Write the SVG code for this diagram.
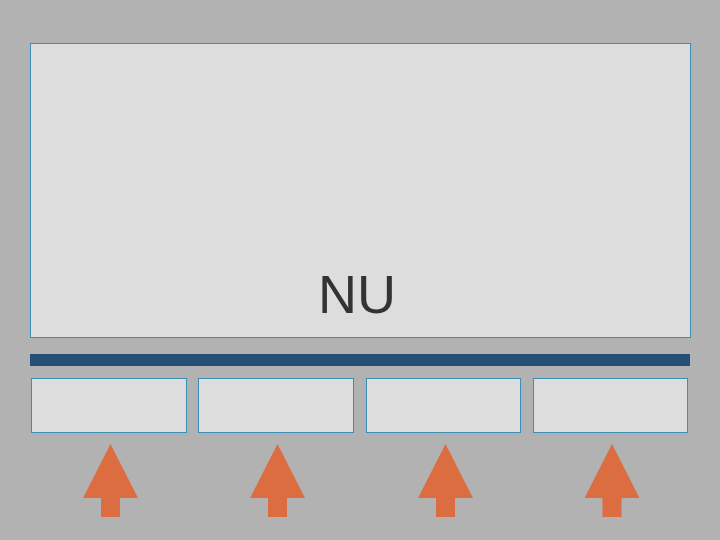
<svg xmlns="http://www.w3.org/2000/svg" width="720" height="540" viewBox="0 0 720 540">
<style>
.box{fill:#dddddd;stroke:#3e8fb8;stroke-width:1}
.arrow{fill:#dc6d40}
.lbl{font-family:"Liberation Sans",Arial,sans-serif;font-size:54px;fill:#333333}
</style>
<rect x="0" y="0" width="720" height="540" fill="#b2b2b2"/>
<g id="main"><rect class="box" x="30.5" y="43.5" width="660" height="294"/><text class="lbl" x="357" y="313" text-anchor="middle">NU</text></g>
<g id="bar"><rect x="30" y="354" width="660" height="12" fill="#264f78"/></g>
<g id="slot1"><rect class="box" x="31.5" y="378.5" width="155" height="54"/></g>
<g id="slot2"><rect class="box" x="198.5" y="378.5" width="155" height="54"/></g>
<g id="slot3"><rect class="box" x="366.5" y="378.5" width="154" height="54"/></g>
<g id="slot4"><rect class="box" x="533.5" y="378.5" width="154" height="54"/></g>
<g id="connectors">
<path class="arrow" d="M110.5 444 L138 498 L120 498 L120 517 L101 517 L101 498 L83 498 Z"/>
<path class="arrow" d="M277.5 444 L305 498 L287 498 L287 517 L268 517 L268 498 L250 498 Z"/>
<path class="arrow" d="M445.5 444 L473 498 L455 498 L455 517 L436 517 L436 498 L418 498 Z"/>
<path class="arrow" d="M612 444 L639.5 498 L621.5 498 L621.5 517 L602.5 517 L602.5 498 L584.5 498 Z"/>
</g>
</svg>
